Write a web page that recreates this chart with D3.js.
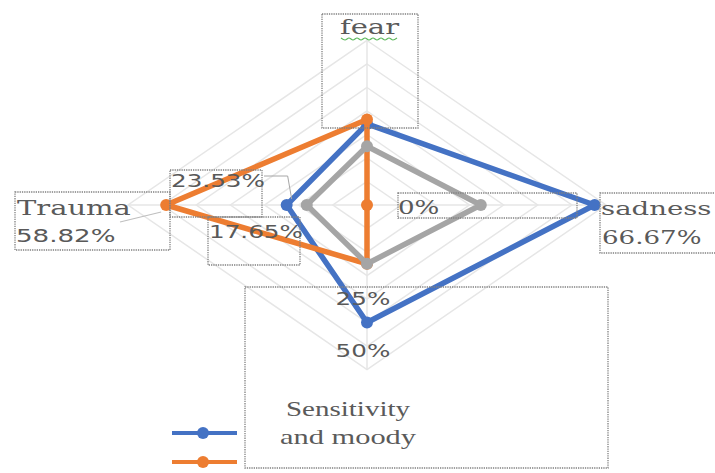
<!DOCTYPE html>
<html>
<head>
<meta charset="utf-8">
<script src="https://cdn.jsdelivr.net/npm/d3@7"></script>
<style>
  body { margin: 0; background: #fff; }
</style>
</head>
<body>
<div id="chart"></div>
<script>
"use strict";

// == DATA ==
var axes = ["fear", "sadness", "Sensitivity and moody", "Trauma"];
var blueValues = [34.5, 66.67, 50, 23.53];
var orangeValues = [36.4, 0, 25, 58.82];
var grayValues = [25, 33.33, 25, 17.65];
var ringTicks = [10, 20, 30, 40, 50, 60, 70];
var seriesColors = ["#4472C4", "#ED7D31", "#A5A5A5"];

var series = [blueValues, orangeValues, grayValues];

// == BOILERPLATE ==
var width = 715, height = 473;
var cx = 367, cy = 205, RX = 239, RY = 164.5;
var SX = 1.45; // the picture is stretched sideways, text too

var svg = d3.select("#chart")
            .append("svg")
            .attr("width", width)
            .attr("height", height);

var r = d3.scaleLinear().domain([0, 70]).range([0, 1]);
var ang = d3.scaleLinear().domain([0, axes.length]).range([0, 2 * Math.PI]);

var pt = function(i, v) {
  var a = ang(i);
  return [cx + Math.sin(a) * r(v) * RX, cy - Math.cos(a) * r(v) * RY];
};

var pctFmt = function(v) { return (+v.toFixed(2)) + "%"; };

// grid rings
svg.append("g").selectAll("path")
   .data(ringTicks)
   .enter()
   .append("path")
   .attr("d", function(t) {
     return d3.line().curve(d3.curveLinearClosed)(axes.map(function(a, i) { return pt(i, t); }));
   })
   .attr("fill", "none")
   .attr("stroke", "#e6e6e6")
   .attr("stroke-width", 1.5);

// spokes
svg.append("g").selectAll("line")
   .data(axes)
   .enter()
   .append("line")
   .attr("x1", cx).attr("y1", cy)
   .attr("x2", function(d, i) { return pt(i, 70)[0]; })
   .attr("y2", function(d, i) { return pt(i, 70)[1]; })
   .attr("stroke", "#e6e6e6")
   .attr("stroke-width", 1.5);

// series lines + markers
var sG = svg.selectAll("g.series")
            .data(series)
            .enter()
            .append("g")
            .attr("class", "series");

sG.append("path")
  .attr("d", function(vals) {
    return d3.line().curve(d3.curveLinearClosed)(vals.map(function(v, i) { return pt(i, v); }));
  })
  .attr("fill", "none")
  .attr("stroke", function(d, i) { return seriesColors[i]; })
  .attr("stroke-width", 5.5)
  .attr("stroke-linejoin", "round");

sG.each(function(vals, si) {
  d3.select(this).selectAll("circle")
    .data(vals)
    .enter()
    .append("circle")
    .attr("cx", function(v, i) { return pt(i, v)[0]; })
    .attr("cy", function(v, i) { return pt(i, v)[1]; })
    .attr("r", 6)
    .attr("fill", seriesColors[si]);
});

// leader lines
var bt = pt(3, blueValues[3]);
svg.append("path")
   .attr("d", "M264," + (bt[1] - 29) + "H" + (bt[0] + 1) + "L" + (bt[0] + 5) + "," + (bt[1] - 6))
   .attr("fill", "none").attr("stroke", "#a6a6a6").attr("stroke-width", 1);
var ot = pt(3, orangeValues[3]);
svg.append("line")
   .attr("x1", 120).attr("y1", 222).attr("x2", ot[0] - 5).attr("y2", ot[1] + 7)
   .attr("stroke", "#bfbfbf").attr("stroke-width", 1.2);

// dotted label boxes
var boxes = [
  [322, 14, 96, 114],
  [15, 192, 155, 58],
  [170, 170, 92, 47],
  [208, 217, 92, 48],
  [398, 193, 179, 25],
  [600, 193, 130, 60],
  [245, 287, 363, 181]
];
svg.append("g").selectAll("rect")
   .data(boxes)
   .enter()
   .append("rect")
   .attr("x", function(b) { return b[0]; })
   .attr("y", function(b) { return b[1]; })
   .attr("width", function(b) { return b[2]; })
   .attr("height", function(b) { return b[3]; })
   .attr("fill", "none")
   .attr("stroke", "#808080")
   .attr("stroke-width", 1.3)
   .attr("stroke-dasharray", "1.3,1");

// labels
var serif = "'DejaVu Serif', serif";
var serif2 = "'Liberation Serif', serif";
var sans = "'DejaVu Sans', sans-serif";
var labels = [
  { t: axes[0], x: 340, y: 34, f: serif, s: 20, c: "#5a5a5a" },
  { t: axes[1], x: 601, y: 215, f: serif, s: 19, c: "#5a5a5a" },
  { t: pctFmt(blueValues[1]), x: 602, y: 244, f: serif, s: 18, c: "#595959" },
  { t: pctFmt(orangeValues[1]), x: 398, y: 214, f: serif, s: 18, c: "#595959" },
  { t: axes[3], x: 17, y: 215, f: serif, s: 20, c: "#5a5a5a" },
  { t: pctFmt(orangeValues[3]), x: 16, y: 242, f: sans, s: 18, c: "#595959" },
  { t: pctFmt(blueValues[3]), x: 171, y: 187, f: sans, s: 17, c: "#595959" },
  { t: pctFmt(grayValues[3]), x: 209, y: 238, f: sans, s: 17, c: "#595959" },
  { t: pctFmt(orangeValues[2]), x: 363, y: 305, f: sans, s: 17, c: "#595959", a: "middle" },
  { t: pctFmt(blueValues[2]), x: 363, y: 357, f: sans, s: 17, c: "#595959", a: "middle" },
  { t: "Sensitivity", x: 348, y: 416, f: serif2, s: 20, c: "#5a5a5a", a: "middle" },
  { t: "and moody", x: 348, y: 444, f: serif2, s: 21, c: "#5a5a5a", a: "middle" }
];
svg.append("g").selectAll("text")
   .data(labels)
   .enter()
   .append("text")
   .attr("transform", function(d) { return "translate(" + d.x + "," + d.y + ") scale(" + SX + ",1)"; })
   .attr("text-anchor", function(d) { return d.a || "start"; })
   .style("font-family", function(d) { return d.f; })
   .style("font-size", function(d) { return d.s + "px"; })
   .attr("fill", function(d) { return d.c; })
   .text(function(d) { return d.t; });

// spell-check squiggle under "fear"
var sq = d3.range(0, 15).map(function(i) { return [341 + i * 4, 38 + (i % 2 ? 2 : 0)]; });
svg.append("path")
   .attr("d", d3.line().curve(d3.curveCardinal)(sq))
   .attr("fill", "none").attr("stroke", "#5cb85c").attr("stroke-width", 1.2);

// legend (only two entries visible)
var leg = svg.append("g").selectAll("g")
             .data(seriesColors.slice(0, 2))
             .enter()
             .append("g")
             .attr("transform", function(d, i) { return "translate(0," + (433 + i * 29) + ")"; });
leg.append("line")
   .attr("x1", 172).attr("x2", 237)
   .attr("stroke", function(d) { return d; })
   .attr("stroke-width", 4);
leg.append("circle")
   .attr("cx", 203).attr("r", 6)
   .attr("fill", function(d) { return d; });
</script>
</body>
</html>
